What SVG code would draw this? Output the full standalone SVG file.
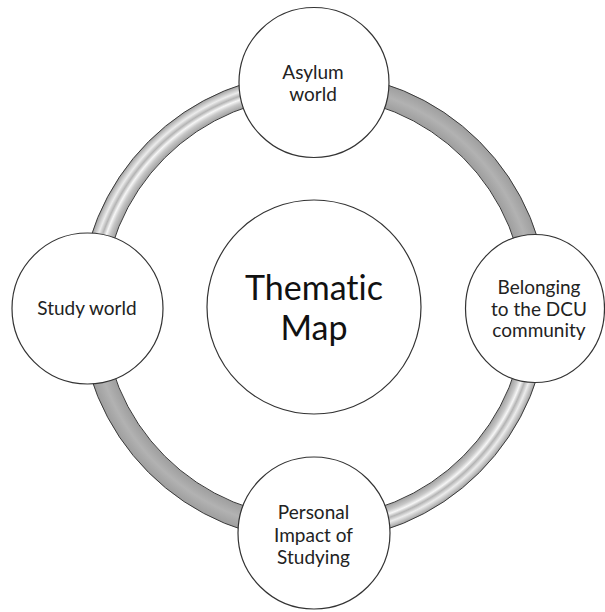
<svg xmlns="http://www.w3.org/2000/svg" width="605" height="612" viewBox="0 0 605 612">
  <style>
    .node { fill: #ffffff; stroke: #333333; stroke-width: 1.2; }
    .arc { stroke: #3a3a3a; stroke-width: 1; }
    .lbl { font-family: Lato, "Liberation Sans", sans-serif; font-size: 19px; fill: #222222; text-anchor: middle; font-variant-ligatures: none; }
    .big { font-family: Lato, "Liberation Sans", sans-serif; font-size: 34px; fill: #111111; text-anchor: middle; font-variant-ligatures: none; }
  </style>
  <defs>
    <radialGradient id="shine" gradientUnits="userSpaceOnUse" cx="314" cy="307" r="234">
      <stop offset="0.9017" stop-color="#a2a2a2"/>
      <stop offset="0.925" stop-color="#c8c8c8"/>
      <stop offset="0.94" stop-color="#f6f6f6"/>
      <stop offset="0.955" stop-color="#b4b4b4"/>
      <stop offset="0.972" stop-color="#ececec"/>
      <stop offset="1" stop-color="#a0a0a0"/>
    </radialGradient>
    <radialGradient id="flat" gradientUnits="userSpaceOnUse" cx="314" cy="307" r="234">
      <stop offset="0.9017" stop-color="#9e9e9e"/>
      <stop offset="0.95" stop-color="#b2b2b2"/>
      <stop offset="1" stop-color="#9e9e9e"/>
    </radialGradient>
  </defs>
  <rect width="605" height="612" fill="#ffffff"/>
  <g id="connectors">
    <path class="arc" fill="url(#shine)" d="M 80 307 A 234 234 0 0 1 314 73 L 314 96 A 211 211 0 0 0 103 307 Z"/>
    <path class="arc" fill="url(#flat)" d="M 314 73 A 234 234 0 0 1 548 307 L 525 307 A 211 211 0 0 0 314 96 Z"/>
    <path class="arc" fill="url(#shine)" d="M 548 307 A 234 234 0 0 1 314 541 L 314 518 A 211 211 0 0 0 525 307 Z"/>
    <path class="arc" fill="url(#flat)" d="M 314 541 A 234 234 0 0 1 80 307 L 103 307 A 211 211 0 0 0 314 518 Z"/>
  </g>
  <g id="node-center">
    <circle class="node" cx="314" cy="307" r="107"/>
    <text class="big" x="314" y="300">Thematic</text>
    <text class="big" x="314" y="340">Map</text>
  </g>
  <g id="node-asylum">
    <circle class="node" cx="314" cy="82.5" r="75"/>
    <text class="lbl" x="313" y="79">Asylum</text>
    <text class="lbl" x="313" y="101">world</text>
  </g>
  <g id="node-study">
    <circle class="node" cx="87.5" cy="308.5" r="75.5"/>
    <text class="lbl" x="87" y="315">Study world</text>
  </g>
  <g id="node-belonging">
    <ellipse class="node" cx="535" cy="308.5" rx="69.5" ry="74"/>
    <text class="lbl" x="539" y="294">Belonging</text>
    <text class="lbl" x="539" y="316">to the DCU</text>
    <text class="lbl" x="539" y="337">community</text>
  </g>
  <g id="node-personal">
    <circle class="node" cx="314" cy="533" r="76"/>
    <text class="lbl" x="313.5" y="519">Personal</text>
    <text class="lbl" x="313.5" y="541.5">Impact of</text>
    <text class="lbl" x="313.5" y="564">Studying</text>
  </g>
</svg>
